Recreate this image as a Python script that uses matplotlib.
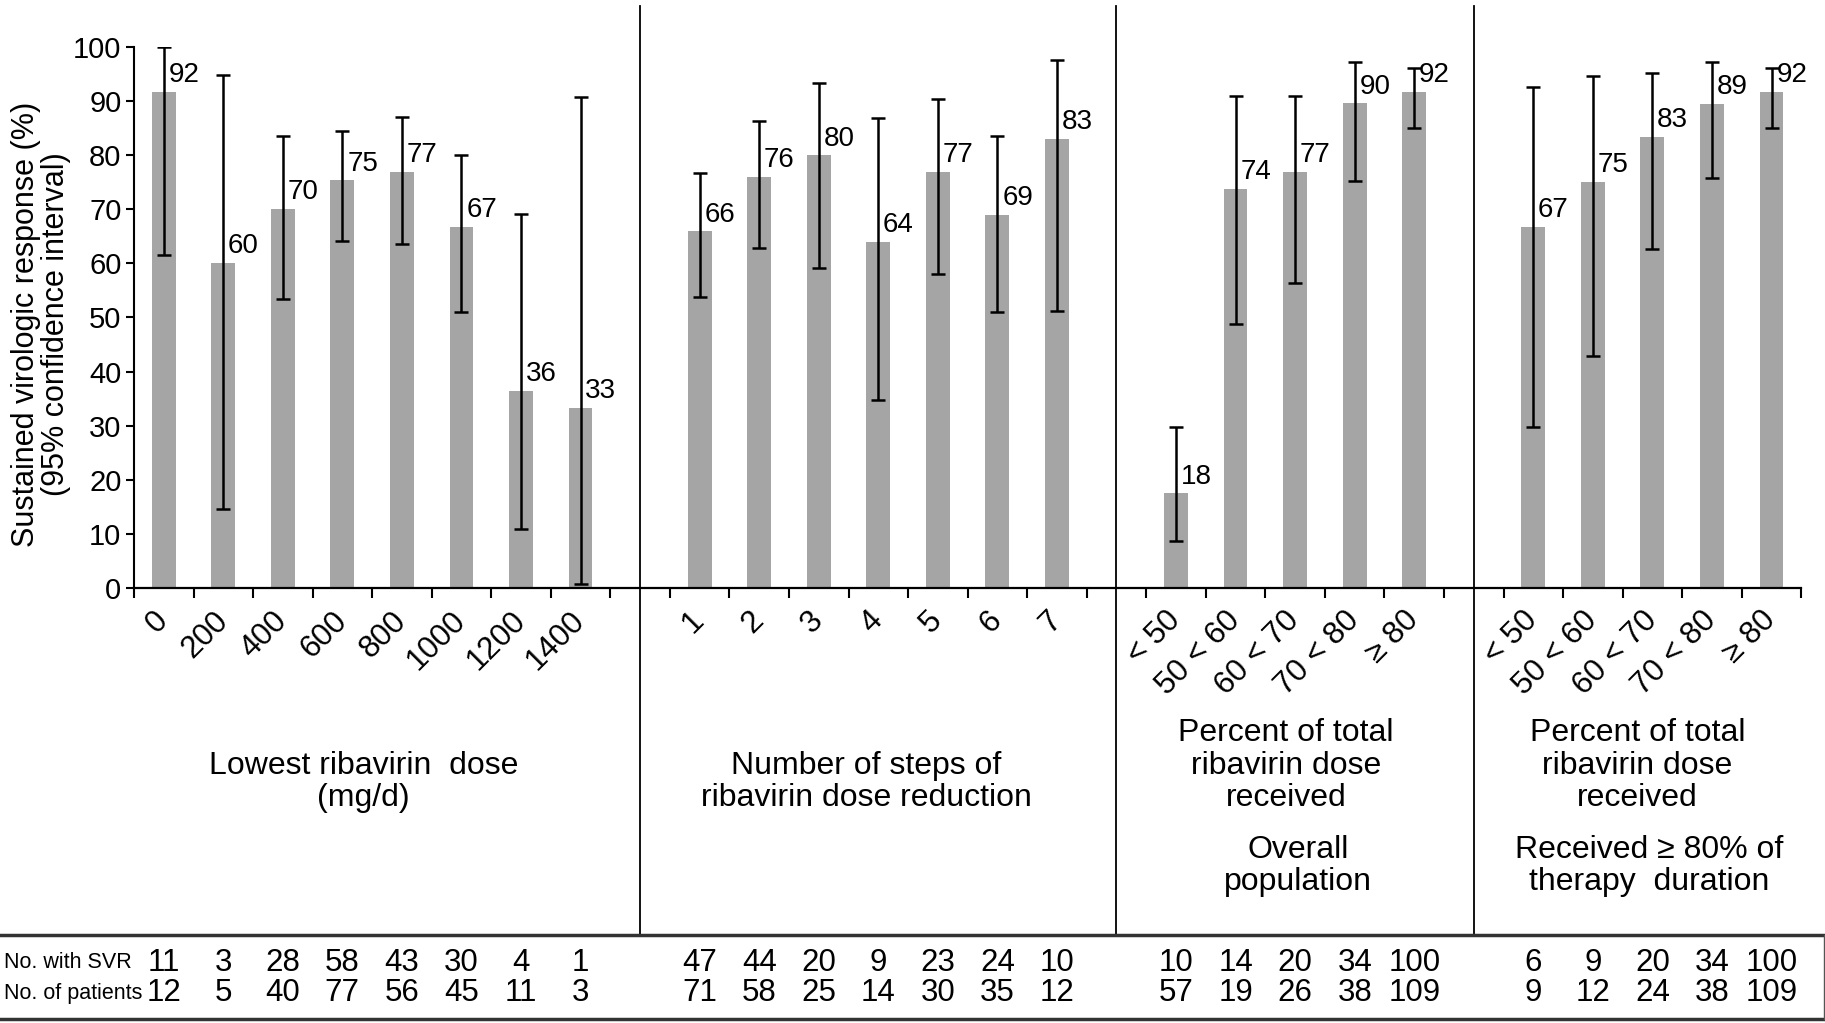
import matplotlib
matplotlib.use("Agg")
import matplotlib.pyplot as plt
import numpy as np
from matplotlib.lines import Line2D
from matplotlib.transforms import blended_transform_factory, ScaledTranslation

plt.rcParams['font.family'] = ['Liberation Sans', 'DejaVu Sans']

# lowest ribavirin dose (mg/d)
dose_labels = ['0', '200', '400', '600', '800', '1000', '1200', '1400']
dose_svr = [91.7, 60.0, 70.0, 75.3, 76.8, 66.7, 36.4, 33.3]
dose_lo = [61.5, 14.7, 53.4, 64.1, 63.5, 51.0, 10.9, 0.8]
dose_hi = [100.0, 94.8, 83.4, 84.4, 87.0, 80.0, 69.1, 90.6]
dose_text = ['92', '60', '70', '75', '77', '67', '36', '33']
dose_n_svr = [11, 3, 28, 58, 43, 30, 4, 1]
dose_n_pat = [12, 5, 40, 77, 56, 45, 11, 3]

# number of steps of dose reduction
steps_labels = ['1', '2', '3', '4', '5', '6', '7']
steps_svr = [65.9, 75.9, 79.9, 64.0, 76.9, 68.9, 82.9]
steps_lo = [53.8, 62.9, 59.2, 34.8, 58.0, 51.0, 51.2]
steps_hi = [76.6, 86.2, 93.2, 86.8, 90.4, 83.5, 97.5]
steps_text = ['66', '76', '80', '64', '77', '69', '83']
steps_n_svr = [47, 44, 20, 9, 23, 24, 10]
steps_n_pat = [71, 58, 25, 14, 30, 35, 12]

# percent of total dose received
pct_labels = ['< 50', '50 < 60', '60 < 70', '70 < 80', '\u2265 80']

overall_svr = [17.5, 73.7, 76.9, 89.5, 91.7]
overall_lo = [8.8, 48.8, 56.4, 75.2, 84.9]
overall_hi = [29.8, 90.8, 90.9, 97.1, 96.0]
overall_text = ['18', '74', '77', '90', '92']
overall_n_svr = [10, 14, 20, 34, 100]
overall_n_pat = [57, 19, 26, 38, 109]

dur_svr = [66.7, 75.0, 83.3, 89.4, 91.7]
dur_lo = [29.8, 42.8, 62.6, 75.8, 84.9]
dur_hi = [92.5, 94.5, 95.2, 97.1, 96.0]
dur_text = ['67', '75', '83', '89', '92']
dur_n_svr = [6, 9, 20, 34, 100]
dur_n_pat = [9, 12, 24, 38, 109]

groups = [
    (0, dose_labels, dose_svr, dose_lo, dose_hi, dose_text, dose_n_svr, dose_n_pat),
    (9, steps_labels, steps_svr, steps_lo, steps_hi, steps_text, steps_n_svr, steps_n_pat),
    (17, pct_labels, overall_svr, overall_lo, overall_hi, overall_text, overall_n_svr, overall_n_pat),
    (23, pct_labels, dur_svr, dur_lo, dur_hi, dur_text, dur_n_svr, dur_n_pat),
]

fig = plt.figure(figsize=(18.25, 10.23), dpi=100)
ax = fig.add_axes([0.0734, 0.425, 0.9136, 0.5295])
bt = blended_transform_factory(ax.transData, fig.transFigure)

all_pos, all_labels, minor_pos = [], [], []
for start, labels, svr, lo, hi, txt, nsvr, npat in groups:
    x = np.arange(len(svr)) + start
    svr = np.array(svr)
    ax.bar(x, svr, width=0.4, color='#a5a5a5', zorder=2)
    yerr = [svr - np.array(lo), np.array(hi) - svr]
    ax.errorbar(x, svr, yerr=yerr, fmt='none', ecolor='black', elinewidth=1.8,
                capsize=4.7, capthick=1.8, zorder=3)
    for xi, v, t in zip(x, svr, txt):
        ax.text(xi + 0.08, v + 1.8, t, fontsize=20, ha='left', va='baseline', zorder=4)
    for xi, a, b in zip(x, nsvr, npat):
        fig.text(xi, 0.0587, str(a), transform=bt, fontsize=22.5, ha='center', va='center')
        fig.text(xi, 0.0293, str(b), transform=bt, fontsize=22.5, ha='center', va='center')
    all_pos += list(x)
    all_labels += labels
    minor_pos += list(np.arange(start - 0.5, start + len(svr), 1.0))

ax.set_xlim(-0.5, 27.5)
ax.set_ylim(0, 100)
ax.set_yticks(range(0, 101, 10))
ax.set_xticks(all_pos)
ax.set_xticklabels(all_labels, rotation=45, ha='right', va='center',
                   rotation_mode='anchor', fontsize=22.5)
shift = ScaledTranslation(0.16, 0, fig.dpi_scale_trans)
for lab in ax.get_xticklabels():
    lab.set_transform(lab.get_transform() + shift)
ax.set_xticks(minor_pos, minor=True)
ax.tick_params(axis='x', which='major', length=0, pad=20)
ax.tick_params(axis='x', which='minor', length=7, width=1.5, direction='out')
ax.tick_params(axis='y', length=6, width=1.5, labelsize=21, pad=3)
for s in ['top', 'right']:
    ax.spines[s].set_visible(False)
ax.spines['left'].set_linewidth(1.5)
ax.spines['bottom'].set_linewidth(1.6)

# panel separators
for sx in [8, 16, 22]:
    ax.add_line(Line2D([sx, sx], [0.086, 0.994], transform=bt, color='black',
                       lw=1.3, clip_on=False))

fig.text(0.0225, 0.683, 'Sustained virologic response (%)\n(95% confidence interval)',
         rotation=90, ha='center', va='center', fontsize=22, linespacing=1.02,
         multialignment='center')

kw = dict(transform=bt, ha='center', va='center', fontsize=23, linespacing=1.12,
          multialignment='center')
fig.text(3.35, 0.2356, 'Lowest ribavirin  dose\n(mg/d)', **kw)
fig.text(11.8, 0.2356, 'Number of steps of\nribavirin dose reduction', **kw)
fig.text(18.85, 0.2515, 'Percent of total\nribavirin dose\nreceived', **kw)
fig.text(19.05, 0.1535, 'Overall\npopulation', **kw)
fig.text(24.75, 0.2515, 'Percent of total\nribavirin dose\nreceived', **kw)
fig.text(24.95, 0.1535, 'Received \u2265 80% of\ntherapy  duration', **kw)

# table
fig.text(0.002, 0.0587, 'No. with SVR', ha='left', va='center', fontsize=15.5)
fig.text(0.002, 0.0293, 'No. of patients', ha='left', va='center', fontsize=15.5)
fig.add_artist(Line2D([0, 1], [0.086, 0.086], color='#333333', lw=2.5))
fig.add_artist(Line2D([0, 1], [0.004, 0.004], color='#333333', lw=2.5))
fig.add_artist(Line2D([0.9993, 0.9993], [0.004, 0.086], color='#555555', lw=1.0))

fig.savefig('out.png', dpi=100)
